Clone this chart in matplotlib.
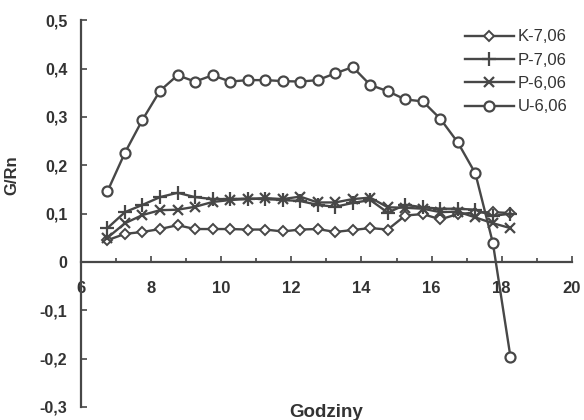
# chart G/Rn over hours of the day, four series
import matplotlib.pyplot as plt
from matplotlib.ticker import FuncFormatter, MultipleLocator

plt.rcParams['font.family'] = ['Liberation Sans', 'DejaVu Sans']

hours = [6.75, 7.25, 7.75, 8.25, 8.75, 9.25, 9.75, 10.25, 10.75, 11.25, 11.75, 12.25,
         12.75, 13.25, 13.75, 14.25, 14.75, 15.25, 15.75, 16.25, 16.75, 17.25, 17.75, 18.25]

k_7 = [0.045, 0.058, 0.062, 0.068, 0.076, 0.068, 0.068, 0.068, 0.067, 0.067, 0.063, 0.067,
       0.068, 0.062, 0.066, 0.070, 0.067, 0.096, 0.099, 0.088, 0.099, 0.102, 0.103, 0.101]
p_7 = [0.070, 0.103, 0.118, 0.134, 0.143, 0.134, 0.130, 0.130, 0.131, 0.130, 0.128, 0.126,
       0.118, 0.114, 0.122, 0.128, 0.102, 0.118, 0.113, 0.110, 0.110, 0.108, 0.095, 0.100]
p_6 = [0.050, 0.080, 0.097, 0.107, 0.108, 0.114, 0.124, 0.128, 0.130, 0.132, 0.130, 0.135,
       0.123, 0.123, 0.130, 0.133, 0.113, 0.112, 0.110, 0.103, 0.104, 0.092, 0.080, 0.070]
u_6 = [0.146, 0.226, 0.294, 0.354, 0.386, 0.373, 0.386, 0.373, 0.376, 0.376, 0.374, 0.373,
       0.376, 0.390, 0.403, 0.366, 0.353, 0.336, 0.332, 0.296, 0.247, 0.183, 0.039, -0.196]

names = ['K-7,06', 'P-7,06', 'P-6,06', 'U-6,06']

col = '#474747'
txt = '#333333'
fig = plt.figure(figsize=(5.84, 4.2), dpi=100)
ax = fig.add_axes([0.139, 0.031, 0.840, 0.921])

ax.plot(hours, k_7, color=col, lw=1.7, marker='D', ms=5.2, mfc='white', mew=1.4, label=names[0])
ax.plot(hours, p_7, color=col, lw=1.7, marker='+', ms=9.5, mew=1.6, label=names[1])
ax.plot(hours, p_6, color=col, lw=1.7, marker='x', ms=7, mew=1.6, label=names[2])
ax.plot(hours, u_6, color=col, lw=1.7, marker='o', ms=7.2, mfc='white', mew=1.6, label=names[3])

ax.set_xlim(6, 20)
ax.set_ylim(-0.3, 0.5)
ax.spines['top'].set_visible(False)
ax.spines['right'].set_visible(False)
ax.spines['bottom'].set_position(('data', 0))
for s in ['left', 'bottom']:
    ax.spines[s].set_color(col)
    ax.spines[s].set_linewidth(1.6)

ax.xaxis.set_major_locator(MultipleLocator(2))
ax.xaxis.set_minor_locator(MultipleLocator(1))
ax.yaxis.set_major_locator(MultipleLocator(0.1))
ax.yaxis.set_major_formatter(FuncFormatter(lambda v, p: '0' if abs(v) < 1e-9 else ('%.1f' % v).replace('.', ',')))
ax.tick_params(axis='x', which='both', direction='in', color=col, width=1.2)
ax.tick_params(axis='x', which='major', length=4, pad=14, labelsize=12, labelcolor=txt)
ax.tick_params(axis='x', which='minor', length=3)
ax.tick_params(axis='y', direction='in', length=4, width=1.2, color=col, pad=10,
               labelsize=11.5, labelcolor=txt)
for t in ax.get_xticklabels() + ax.get_yticklabels():
    t.set_fontweight('bold')

ax.set_ylabel('G/Rn', fontsize=12, fontweight='bold', color=txt)
ax.yaxis.set_label_coords(-0.125, 0.6)
ax.text(0.5, -0.015, 'Godziny', transform=ax.transAxes, ha='center', va='center',
        fontsize=13.5, fontweight='bold', color=txt)

ax.legend(loc='upper right', bbox_to_anchor=(1.022, 1.015), frameon=False, fontsize=12,
          handlelength=2.9, handletextpad=0.25, labelspacing=0.5, labelcolor=txt)

plt.savefig('out.png', dpi=100)
